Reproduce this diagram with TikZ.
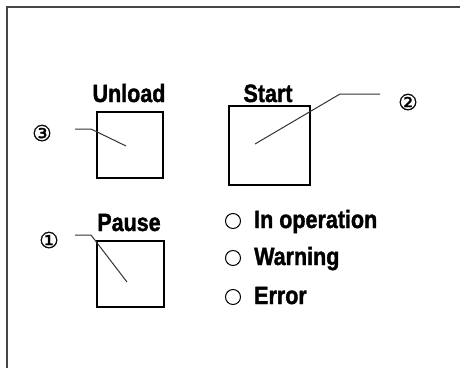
\documentclass[tikz,border=0pt]{standalone}
\usepackage{fontspec}
\usepackage{graphicx}
\setmainfont{Liberation Sans}[BoldFeatures={FakeBold=1.6}]
\newfontfamily\symfont{DejaVu Sans}[FakeBold=1.2]
\newcommand\narrowtxt[1]{\scalebox{0.86}[1]{#1}}
\begin{document}
\begin{tikzpicture}[x=1pt,y=-1pt,
  btn/.style={draw=black,line width=1.3pt,inner sep=0pt},
  lbl/.style={font=\fontsize{25}{25}\selectfont\bfseries,anchor=base,inner sep=0pt},
  ind/.style={font=\fontsize{25}{25}\selectfont\bfseries,anchor=base west,inner sep=0pt},
  lamp/.style={circle,draw=black,line width=1pt,minimum size=15pt,inner sep=0pt},
  num/.style={font=\symfont\fontsize{22}{22}\selectfont,inner sep=0pt},
  leader/.style={draw=black!80,line width=1pt}]
\useasboundingbox (0,0) rectangle (460,367);
% frame
\draw[draw=black!72,line width=2.2pt] (7,370) -- (7,7) -- (465,7);
% buttons
\node[btn,minimum width=66pt,minimum height=66pt] (unload) at (130,145) {};
\node[btn,minimum width=81pt,minimum height=79pt] (start) at (269.5,145.5) {};
\node[btn,minimum width=67pt,minimum height=66pt] (pause) at (130.5,274) {};
% labels
\node[lbl] (tunload) at (129,102) {\narrowtxt{Unload}};
\node[lbl] (tstart) at (268,102) {\narrowtxt{Start}};
\node[lbl] (tpause) at (129,231) {\narrowtxt{Pause}};
% lamps
\node[lamp] (l1) at (233,221) {};
\node[lamp] (l2) at (233,258) {};
\node[lamp] (l3) at (233,297) {};
\node[ind] (t1) at (254,228) {\narrowtxt{In operation}};
\node[ind] (t2) at (254,265) {\narrowtxt{Warning}};
\node[ind] (t3) at (254,304) {\narrowtxt{Error}};
% numbers
\node[num] (n3) at (42,133) {③};
\node[num] (n2) at (408,102) {②};
\node[num] (n1) at (49,240) {①};
% leaders
\coordinate (a3) at (75,129);
\coordinate (b3) at (91,129);
\coordinate (c3) at (126,146);
\draw[leader] (a3) -- (b3) -- (c3);
\coordinate (a2) at (380,94);
\coordinate (b2) at (340,94);
\coordinate (c2) at (255,144);
\draw[leader] (a2) -- (b2) -- (c2);
\coordinate (a1) at (75,235);
\coordinate (b1) at (91,235);
\coordinate (c1) at (127,282);
\draw[leader] (a1) -- (b1) -- (c1);
\end{tikzpicture}
\end{document}
